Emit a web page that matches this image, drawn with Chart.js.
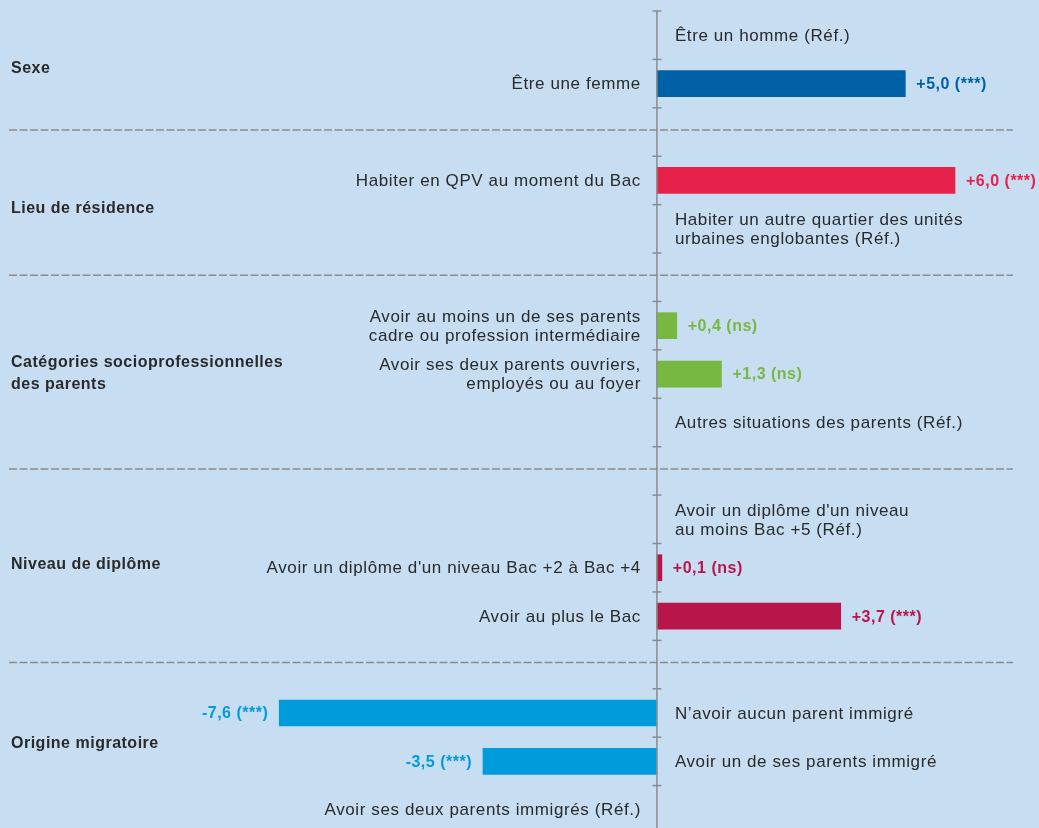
<!DOCTYPE html>
<html lang="fr">
<head>
<meta charset="utf-8">
<script src="https://cdn.jsdelivr.net/npm/chart.js@4/dist/chart.umd.min.js"></script>
<style>
  html, body { margin: 0; padding: 0; background: #c6ddf2; overflow: hidden; }
  #wrap { width: 1039px; height: 834px; }
</style>
</head>
<body>
<div id="wrap"><canvas id="chart" width="1039" height="834"></canvas></div>
<script>
// rows, top to bottom (empty string = gap between groups)
const categories = [
  'Être un homme (Réf.)',
  'Être une femme',
  '',
  'Habiter en QPV au moment du Bac',
  'Habiter un autre quartier des unités\nurbaines englobantes (Réf.)',
  '',
  'Avoir au moins un de ses parents\ncadre ou profession intermédiaire',
  'Avoir ses deux parents ouvriers,\nemployés ou au foyer',
  'Autres situations des parents (Réf.)',
  '',
  "Avoir un diplôme d'un niveau\nau moins Bac +5 (Réf.)",
  "Avoir un diplôme d'un niveau Bac +2 à Bac +4",
  'Avoir au plus le Bac',
  '',
  'N’avoir aucun parent immigré',
  'Avoir un de ses parents immigré',
  'Avoir ses deux parents immigrés (Réf.)'
];
const values = [null, 5.0, null, 6.0, null, null, 0.4, 1.3, null, null, null, 0.1, 3.7, null, -7.6, -3.5, null];
const signif = ['', '***', '', '***', '', '', 'ns', 'ns', '', '', '', 'ns', '***', '', '***', '***', ''];
// which side of the axis the row text sits on
const textSide = ['right', 'left', '', 'left', 'right', '', 'left', 'left', 'right', '', 'right', 'left', 'left', '', 'right', 'right', 'left'];
const groups = ['Sexe', 'Lieu de résidence', 'Catégories socioprofessionnelles\ndes parents', 'Niveau de diplôme', 'Origine migratoire'];
const groupOfRow = [0, 0, -1, 1, 1, -1, 2, 2, 2, -1, 3, 3, 3, -1, 4, 4, 4];

const groupColors = ['#0060a6', '#e6224b', '#77b843', '#b8164a', '#009bdb'];
const groupLabelRow = [0.68, 3.58, 7.0, 10.93, 14.63]; // vertical anchor of group titles
const TXT = '#2a2a2a', GREY = '#8c8c8c';

function fmt(v) {
  return (v > 0 ? '+' : '') + v.toFixed(1).replace('.', ',');
}

const drawer = {
  id: 'drawer',
  afterDatasetsDraw(chart) {
    const ctx = chart.ctx, xs = chart.scales.x, ys = chart.scales.y;
    const band = ys.getPixelForValue(1) - ys.getPixelForValue(0);
    const x0 = xs.getPixelForValue(0);
    ctx.save();

    // axis with ticks on both sides
    ctx.strokeStyle = GREY;
    ctx.lineWidth = 1.5;
    ctx.beginPath();
    ctx.moveTo(x0, chart.chartArea.top);
    ctx.lineTo(x0, chart.height);
    ctx.stroke();
    for (let k = 0; k <= categories.length; k++) {
      const ty = ys.getPixelForValue(k) - band / 2;
      ctx.beginPath();
      ctx.moveTo(x0 - 4.5, ty);
      ctx.lineTo(x0 + 4.5, ty);
      ctx.stroke();
    }

    // dashed separators on gap rows
    ctx.setLineDash([8, 2.5]);
    categories.forEach((c, i) => {
      if (c !== '') return;
      const yy = ys.getPixelForValue(i) - 2;
      ctx.beginPath();
      ctx.moveTo(9, yy);
      ctx.lineTo(1013, yy);
      ctx.stroke();
    });
    ctx.setLineDash([]);

    // row labels
    ctx.textBaseline = 'middle';
    ctx.fillStyle = TXT;
    ctx.font = '17px "Liberation Sans", Arial, sans-serif';
    ctx.letterSpacing = '0.6px';
    categories.forEach((c, i) => {
      if (c === '') return;
      const lines = c.split('\n');
      const cy = ys.getPixelForValue(i) + 1;
      const lh = 19;
      const left = textSide[i] === 'left';
      ctx.textAlign = left ? 'right' : 'left';
      const tx = left ? x0 - 16 : x0 + 18;
      lines.forEach((ln, j) => {
        ctx.fillText(ln, tx, cy + (j - (lines.length - 1) / 2) * lh);
      });
    });

    // value labels
    ctx.font = 'bold 16px "Liberation Sans", Arial, sans-serif';
    ctx.letterSpacing = '0.5px';
    const meta = chart.getDatasetMeta(0);
    values.forEach((v, i) => {
      if (v === null) return;
      const bar = meta.data[i];
      ctx.fillStyle = groupColors[groupOfRow[i]];
      const txt = fmt(v) + ' (' + signif[i] + ')';
      if (v >= 0) {
        ctx.textAlign = 'left';
        ctx.fillText(txt, bar.x + 11, bar.y + 1);
      } else {
        ctx.textAlign = 'right';
        ctx.fillText(txt, bar.x - 11, bar.y + 1);
      }
    });

    // group titles
    ctx.fillStyle = TXT;
    ctx.textAlign = 'left';
    groups.forEach((g, gi) => {
      const lines = g.split('\n');
      const base = ys.getPixelForValue(0) + groupLabelRow[gi] * band;
      lines.forEach((ln, j) => {
        ctx.fillText(ln, 11, base + (j - (lines.length - 1) / 2) * 22);
      });
    });
    ctx.restore();
  }
};

new Chart(document.getElementById('chart').getContext('2d'), {
  type: 'bar',
  data: {
    labels: categories,
    datasets: [{
      data: values,
      backgroundColor: groupOfRow.map(g => g >= 0 ? groupColors[g] : 'transparent'),
      borderWidth: 0,
      barThickness: 26
    }]
  },
  options: {
    indexAxis: 'y',
    responsive: false,
    animation: false,
    layout: { padding: { top: 11, bottom: 0, left: 0, right: 0 } },
    plugins: { legend: { display: false }, tooltip: { enabled: false } },
    scales: {
      x: { display: false, min: -13.22, max: 7.69 },
      y: { display: false }
    }
  },
  plugins: [drawer]
});
</script>
</body>
</html>
